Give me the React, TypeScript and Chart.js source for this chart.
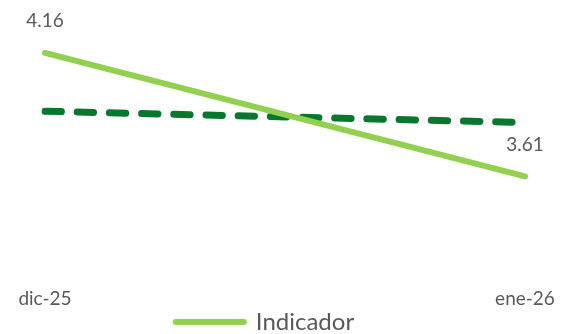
import React, { useEffect, useRef } from "react";
import { Chart, registerables } from "chart.js";

Chart.register(...registerables);

const categories = ["dic-25", "ene-26"];
const indicador = [4.16, 3.61];
const referencia = [3.9, 3.85];
const labelColor = "#595959";
const fontFamily = "Lato, 'Open Sans', sans-serif";

const dataLabelPlugin = {
  id: "dataLabels",
  afterDatasetsDraw(chart: any) {
    const ctx = chart.ctx;
    const meta = chart.getDatasetMeta(0);
    ctx.save();
    ctx.fillStyle = labelColor;
    ctx.font = `19px ${fontFamily}`;
    ctx.textAlign = "center";
    ctx.textBaseline = "middle";
    meta.data.forEach((pt: any, i: number) => {
      ctx.fillText(indicador[i].toFixed(2), pt.x, pt.y - 32);
    });
    ctx.restore();
  },
};

const legendShiftPlugin = {
  id: "legendShift",
  afterLayout(chart: any) {
    const lg = chart.legend;
    if (lg) {
      lg.left -= 20;
      lg.right -= 20;
    }
  },
};

export default function App() {
  const ref = useRef<HTMLCanvasElement>(null);
  useEffect(() => {
    document.body.style.margin = "0";
    const chart = new Chart(ref.current!, {
      type: "line",
      data: {
        labels: categories,
        datasets: [
          {
            label: "Indicador",
            data: indicador,
            borderColor: "#92D050",
            backgroundColor: "#92D050",
            borderWidth: 6,
            borderCapStyle: "round",
            pointRadius: 0,
            tension: 0,
          },
          {
            label: "Referencia",
            data: referencia,
            borderColor: "#08782C",
            backgroundColor: "#08782C",
            borderWidth: 7,
            borderDash: [16.4, 15.8],
            borderCapStyle: "round",
            pointRadius: 0,
            tension: 0,
          },
        ],
      },
      options: {
        animation: false,
        responsive: false,
        maintainAspectRatio: false,
        layout: { padding: { left: 45, right: 36, top: 0, bottom: -10 } },
        scales: {
          x: {
            offset: false,
            grid: { display: false, drawTicks: false },
            border: { display: false },
            ticks: {
              color: labelColor,
              font: { family: fontFamily, size: 19 },
              padding: 0,
              maxRotation: 0,
            },
          },
          y: {
            display: false,
            min: 3.117,
            max: 4.395,
          },
        },
        plugins: {
          tooltip: { enabled: false },
          legend: {
            position: "bottom",
            labels: {
              usePointStyle: true,
              pointStyleWidth: 68,
              color: labelColor,
              font: { family: fontFamily, size: 24 },
              padding: 0,
              generateLabels: () => [
                {
                  text: "Indicador",
                  strokeStyle: "#92D050",
                  fillStyle: "#92D050",
                  lineWidth: 6,
                  lineCap: "round",
                  pointStyle: "line",
                  datasetIndex: 0,
                  fontColor: labelColor,
                },
              ],
            },
          },
        },
      },
      plugins: [dataLabelPlugin, legendShiftPlugin],
    });
    return () => chart.destroy();
  }, []);
  return (
    <div style={{ position: "absolute", left: 0, top: 0, width: 561, height: 334 }}>
      <canvas ref={ref} width={561} height={334} />
    </div>
  );
}
